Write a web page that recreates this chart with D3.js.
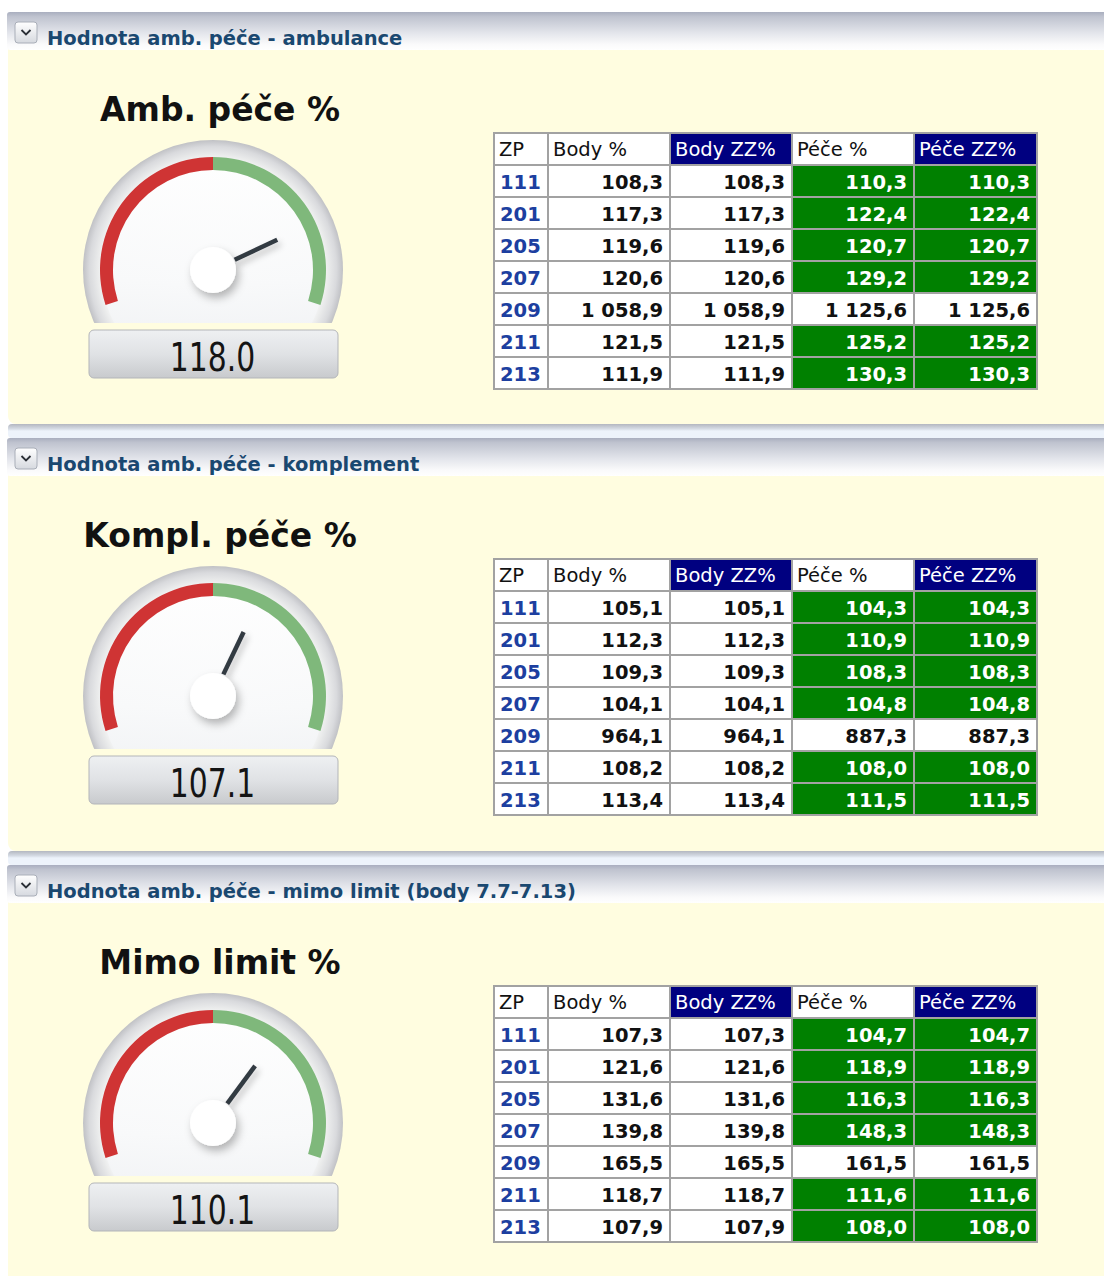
<!DOCTYPE html>
<html>
<head>
<meta charset="utf-8">
<script src="https://cdn.jsdelivr.net/npm/d3@7"></script>
<style>
  html, body { margin: 0; padding: 0; background: #ffffff; }
  svg { display: block; }
</style>
</head>
<body>
<svg id="chart" width="1104" height="1276"></svg>
<script>
// ---------------- DATA ----------------
const panelHeaders = ["Hodnota amb. péče - ambulance", "Hodnota amb. péče - komplement", "Hodnota amb. péče - mimo limit (body 7.7-7.13)"];
const gaugeTitles = ["Amb. péče %", "Kompl. péče %", "Mimo limit %"];
const gaugeValues = [118.0, 107.1, 110.1];
const gaugeMin = 70, gaugeThreshold = 100, gaugeMax = 130;

const columns = ["ZP", "Body %", "Body ZZ%", "Péče %", "Péče ZZ%"];
const zp = ["111", "201", "205", "207", "209", "211", "213"];
const greenRows = [true, true, true, true, false, true, true];

const bodyAmb   = [108.3, 117.3, 119.6, 120.6, 1058.9, 121.5, 111.9];
const bodyZZAmb = [108.3, 117.3, 119.6, 120.6, 1058.9, 121.5, 111.9];
const peceAmb   = [110.3, 122.4, 120.7, 129.2, 1125.6, 125.2, 130.3];
const peceZZAmb = [110.3, 122.4, 120.7, 129.2, 1125.6, 125.2, 130.3];

const bodyKom   = [105.1, 112.3, 109.3, 104.1, 964.1, 108.2, 113.4];
const bodyZZKom = [105.1, 112.3, 109.3, 104.1, 964.1, 108.2, 113.4];
const peceKom   = [104.3, 110.9, 108.3, 104.8, 887.3, 108.0, 111.5];
const peceZZKom = [104.3, 110.9, 108.3, 104.8, 887.3, 108.0, 111.5];

const bodyMim   = [107.3, 121.6, 131.6, 139.8, 165.5, 118.7, 107.9];
const bodyZZMim = [107.3, 121.6, 131.6, 139.8, 165.5, 118.7, 107.9];
const peceMim   = [104.7, 118.9, 116.3, 148.3, 161.5, 111.6, 108.0];
const peceZZMim = [104.7, 118.9, 116.3, 148.3, 161.5, 111.6, 108.0];

const tables = [
  [bodyAmb, bodyZZAmb, peceAmb, peceZZAmb],
  [bodyKom, bodyZZKom, peceKom, peceZZKom],
  [bodyMim, bodyZZMim, peceMim, peceZZMim]
];

// ---------------- LAYOUT ----------------
const W = 1104, H = 1276;
const panelTops = [12, 438, 865];
const svg = d3.select("#chart");
const defs = svg.append("defs");

const czFmt = d3.formatLocale({decimal: ",", thousands: "\u00a0", grouping: [3], currency: ["", ""]}).format(",.1f");
const gaugeFmt = d3.format(".1f");

function linGrad(id, stops, vertical = true) {
  const g = defs.append("linearGradient").attr("id", id)
    .attr("x1", 0).attr("y1", 0).attr("x2", vertical ? 0 : 1).attr("y2", vertical ? 1 : 0);
  stops.forEach(s => g.append("stop").attr("offset", s[0]).attr("stop-color", s[1]));
}
linGrad("hdrGrad", [[0, "#a9aebf"], [0.12, "#bfc3cf"], [0.55, "#e3e5eb"], [0.85, "#fafafb"], [1, "#ffffff"]]);
linGrad("sepGrad", [[0, "#b3b7c0"], [0.35, "#d6dce5"], [0.5, "#edf3fb"], [1, "#edf3fb"]]);
linGrad("boxGrad", [[0, "#eef0f2"], [0.5, "#e0e2e5"], [1, "#c8cacd"]]);
linGrad("iconGrad", [[0, "#ffffff"], [1, "#d6d9df"]]);
linGrad("faceLin", [[0, "#ffffff"], [0.55, "#f8f9fa"], [1, "#eceef1"]]);

const rg = defs.append("radialGradient").attr("id", "bezelGrad")
  .attr("cx", "50%").attr("cy", "50%").attr("r", "50%");
[[0, "#ffffff"], [0.84, "#f6f7f8"], [0.88, "#eceded"], [0.95, "#d9dadd"], [1, "#c0c1c5"]]
  .forEach(s => rg.append("stop").attr("offset", s[0]).attr("stop-color", s[1]));

const sh = defs.append("filter").attr("id", "hubShadow").attr("x", "-60%").attr("y", "-60%").attr("width", "220%").attr("height", "220%");
sh.append("feDropShadow").attr("dx", 3).attr("dy", 5).attr("stdDeviation", 4).attr("flood-color", "#000").attr("flood-opacity", 0.28);
const nsh = defs.append("filter").attr("id", "needleShadow").attr("x", "-60%").attr("y", "-60%").attr("width", "220%").attr("height", "220%");
nsh.append("feDropShadow").attr("dx", 3).attr("dy", 4).attr("stdDeviation", 3).attr("flood-color", "#000").attr("flood-opacity", 0.22);

const colWidths = [54, 122, 122, 122, 123];
const colEdges = colWidths.reduce((a, w) => (a.push(a[a.length - 1] + w), a), [0]);
const tableLeft = 494;
const xCol = d3.scaleOrdinal().domain(columns).range(colEdges.slice(0, -1).map(e => tableLeft + e));
const wCol = d3.scaleOrdinal().domain(columns).range(colWidths);

const angle = d3.scaleLinear().domain([gaugeMin, gaugeMax]).range([-108 * Math.PI / 180, 108 * Math.PI / 180]);

panelTops.forEach((top, p) => {
  const g = svg.append("g");
  const bottom = p < 2 ? panelTops[p + 1] - 14 : H + 20;

  g.append("rect").attr("x", 8).attr("y", top + 20).attr("width", W + 20).attr("height", bottom - top - 20)
    .attr("rx", 8).attr("fill", "#fffde0");

  if (p > 0) {
    g.append("rect").attr("x", 8).attr("y", top - 14).attr("width", W + 20).attr("height", 14)
      .attr("rx", 4).attr("fill", "url(#sepGrad)");
  }
  g.append("rect").attr("x", 7).attr("y", top).attr("width", W + 20).attr("height", 38)
    .attr("rx", 3).attr("fill", "url(#hdrGrad)");

  g.append("rect").attr("x", 15).attr("y", top + 10).attr("width", 22).attr("height", 21).attr("rx", 3)
    .attr("fill", "url(#iconGrad)").attr("stroke", "#a9aeb8").attr("stroke-width", 1);
  g.append("path").attr("d", `M21.5,${top + 18} L26,${top + 22.5} L30.5,${top + 18}`)
    .attr("fill", "none").attr("stroke", "#2b2f36").attr("stroke-width", 1.8);

  g.append("text").attr("x", 47).attr("y", top + 33)
    .attr("font-family", "DejaVu Sans, Verdana, sans-serif").attr("font-weight", "bold").attr("font-size", 19.5)
    .attr("fill", "#1a4870").text(panelHeaders[p]);

  // ---- gauge ----
  const cx = 213, cy = top + 258;
  g.append("text").attr("x", 220).attr("y", top + 109).attr("text-anchor", "middle")
    .attr("font-family", "DejaVu Sans, Verdana, sans-serif").attr("font-weight", "bold").attr("font-size", 33)
    .attr("fill", "#111").text(gaugeTitles[p]);

  const clipId = "faceClip" + p;
  defs.append("clipPath").attr("id", clipId).append("rect")
    .attr("x", cx - 140).attr("y", cy - 140).attr("width", 280).attr("height", 140 + 53);
  const face = g.append("g").attr("clip-path", `url(#${clipId})`);
  face.append("circle").attr("cx", cx).attr("cy", cy).attr("r", 130).attr("fill", "url(#bezelGrad)");
  face.append("circle").attr("cx", cx).attr("cy", cy).attr("r", 112).attr("fill", "url(#faceLin)").attr("opacity", 0.9);

  const bandArc = d3.arc().innerRadius(100).outerRadius(113);
  const gaugeG = g.append("g").attr("transform", `translate(${cx},${cy})`);
  gaugeG.append("path").attr("d", bandArc({startAngle: angle(gaugeMin), endAngle: angle(gaugeThreshold)})).attr("fill", "#cf3434");
  gaugeG.append("path").attr("d", bandArc({startAngle: angle(gaugeThreshold), endAngle: angle(gaugeMax)})).attr("fill", "#7fb87b");

  const a = angle(gaugeValues[p]);
  gaugeG.append("line")
    .attr("x1", Math.sin(a) * 24).attr("y1", -Math.cos(a) * 24)
    .attr("x2", Math.sin(a) * 71).attr("y2", -Math.cos(a) * 71)
    .attr("stroke", "#333a42").attr("stroke-width", 4.5).attr("filter", "url(#needleShadow)");
  gaugeG.append("circle").attr("r", 23).attr("fill", "#ffffff").attr("filter", "url(#hubShadow)");

  g.append("rect").attr("x", cx - 124).attr("y", cy + 60).attr("width", 249).attr("height", 48).attr("rx", 5)
    .attr("fill", "url(#boxGrad)").attr("stroke", "#b3b5b9").attr("stroke-width", 1);
  g.append("text").attr("transform", `translate(${cx - 0.5},${cy + 101}) scale(0.85,1)`).attr("text-anchor", "middle")
    .attr("font-family", "DejaVu Sans Condensed, DejaVu Sans, sans-serif").attr("font-size", 39)
    .attr("fill", "#141414").text(gaugeFmt(gaugeValues[p]));

  // ---- table ----
  const tTop = top + 121;
  const hdrH = 32;
  const yRow = d3.scaleBand().domain(zp).range([tTop + hdrH, tTop + hdrH + 32 * zp.length]);
  const tg = g.append("g");

  columns.forEach((c, ci) => {
    const navy = ci === 2 || ci === 4;
    tg.append("rect").attr("x", xCol(c)).attr("y", tTop).attr("width", wCol(c)).attr("height", hdrH)
      .attr("fill", navy ? "#000080" : "#ffffff").attr("stroke", "#a2a2a2").attr("stroke-width", 2);
    tg.append("text").attr("x", xCol(c) + 5).attr("y", tTop + hdrH / 2 + 7)
      .attr("font-family", "DejaVu Sans, Verdana, sans-serif").attr("font-size", 19.5)
      .attr("fill", navy ? "#ffffff" : "#111").text(c);
  });

  const vals = tables[p];
  zp.forEach((z, ri) => {
    const y = yRow(z), h = yRow.bandwidth();
    tg.append("rect").attr("x", xCol("ZP")).attr("y", y).attr("width", wCol("ZP")).attr("height", h)
      .attr("fill", "#ffffff").attr("stroke", "#a2a2a2").attr("stroke-width", 2);
    tg.append("text").attr("x", xCol("ZP") + 6).attr("y", y + h / 2 + 7.5)
      .attr("font-family", "DejaVu Sans, Verdana, sans-serif").attr("font-weight", "bold").attr("font-size", 19.5)
      .attr("fill", "#1d3fa0").text(z);
    vals.forEach((series, si) => {
      const c = columns[si + 1];
      const green = si >= 2 && greenRows[ri];
      tg.append("rect").attr("x", xCol(c)).attr("y", y).attr("width", wCol(c)).attr("height", h)
        .attr("fill", green ? "#008000" : "#ffffff").attr("stroke", "#a2a2a2").attr("stroke-width", 2);
      tg.append("text").attr("x", xCol(c) + wCol(c) - 7).attr("y", y + h / 2 + 7.5).attr("text-anchor", "end")
        .attr("font-family", "DejaVu Sans, Verdana, sans-serif").attr("font-weight", "bold").attr("font-size", 19.5)
        .attr("fill", green ? "#ffffff" : "#111").text(czFmt(series[ri]));
    });
  });
});
</script>
</body>
</html>
